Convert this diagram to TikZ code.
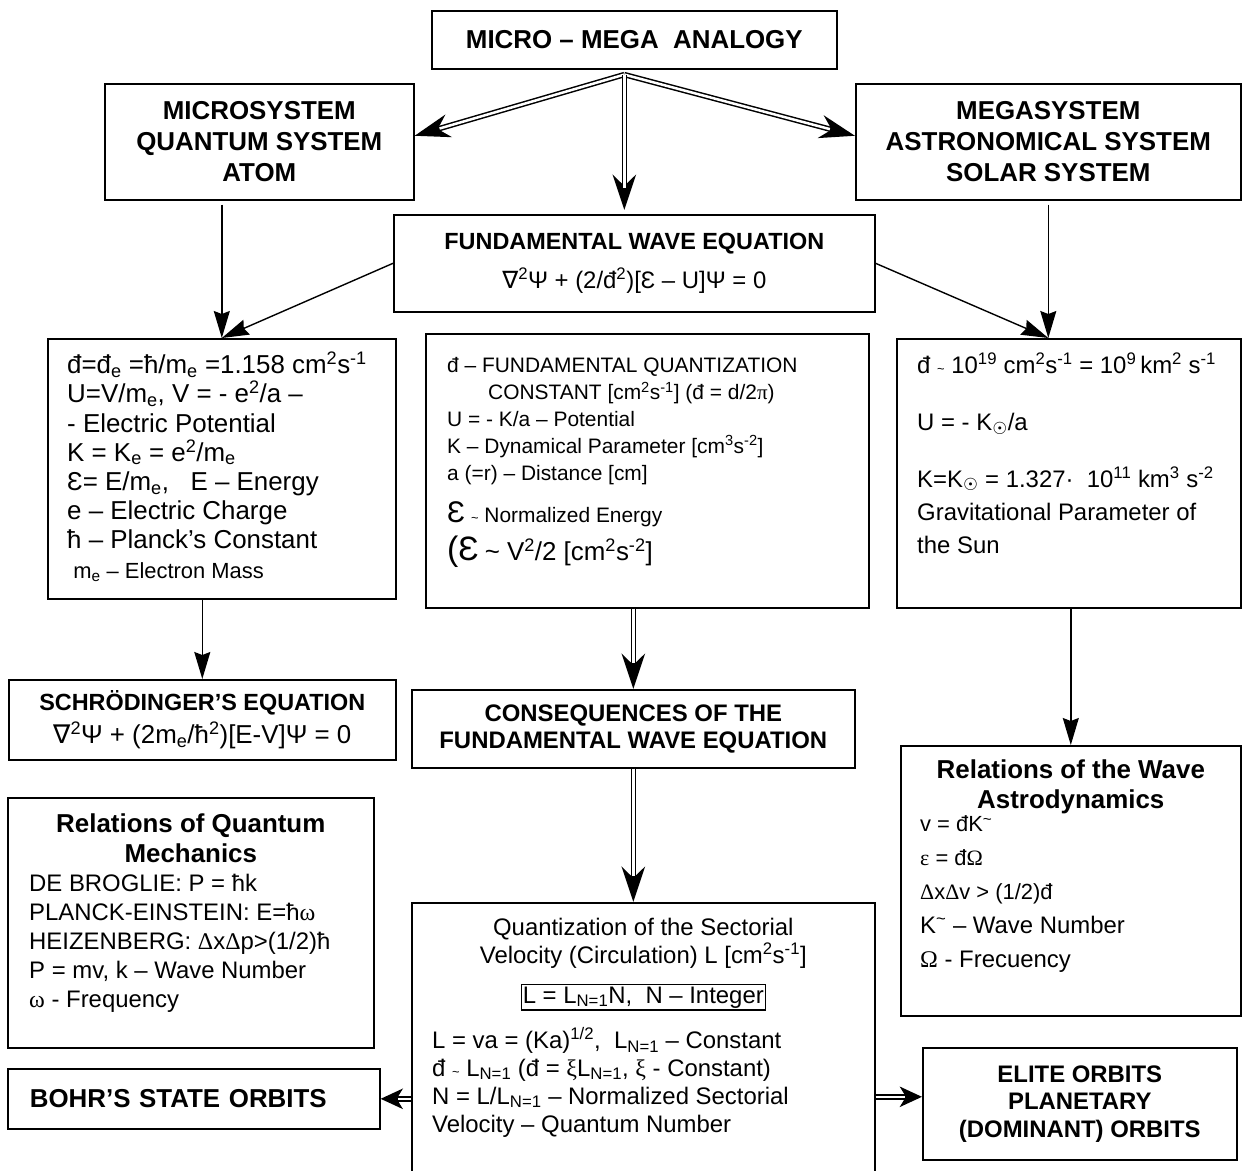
\documentclass[tikz,border=0pt]{standalone}
\usepackage{fontspec}
\setmainfont{Liberation Sans}
\newfontfamily\dvfont{DejaVu Sans}
\newfontfamily\grkfont{Liberation Serif}
\usetikzlibrary{arrows.meta}
\usetikzlibrary{positioning}
\newcommand{\fs}[2]{\fontsize{#1}{#2}\selectfont}
\newcommand{\gk}[1]{{\grkfont #1}}
\newcommand{\nab}{{\dvfont ∇}}
\newcommand{\sunsub}{\textsubscript{\dvfont ☉}}
\newcommand{\smtil}{{\fs{13}{13}\string~}}
\tikzset{
    box/.style={
        draw,
        line width=1.6bp,
        anchor=north west,
        inner sep=0pt
    },
    head/.style={
        font={\fs{26}{31}\bfseries},
        align=center
    },
    txt/.style={
        align=left,
        inner sep=0pt,
        anchor=base west
    },
    arr/.style={
        line width=1.4bp,
        -{Stealth[length=27bp,width=16bp,inset=3bp]}
    },
    dbl/.style={
        line width=5.5bp,
        -{Stealth[length=35bp,width=23bp,inset=11bp]},
        postaction={draw=white,line width=2.5bp,-,shorten >=26bp}
    },
    dbl short/.style={
        line width=5.5bp,
        -{Stealth[length=22bp,width=20bp,inset=6bp]},
        postaction={draw=white,line width=2.5bp,-,shorten >=17bp}
    }
}
\begin{document}
\begin{tikzpicture}[x=1bp,y=-1bp]
          \clip (0,0) rectangle (1242,1171);
          \node[box,head,minimum width=405bp,minimum height=58bp] (ana) at (431,10) {MICRO – MEGA\ \ ANALOGY};
          \node[box,head,minimum width=309bp,minimum height=116bp] (micro) at (104,83) {MICROSYSTEM\\QUANTUM SYSTEM\\ATOM};
          \node[box,head,minimum width=385bp,minimum height=116bp] (mega) at (855,83) {MEGASYSTEM\\ASTRONOMICAL SYSTEM\\SOLAR SYSTEM};
          \node[box,head,font={\fs{23.5}{40}\bfseries},minimum width=481bp,minimum height=97bp] (fwe) at (393,214)
            {FUNDAMENTAL WAVE EQUATION\\{\mdseries\fs{24}{40}\nab\textsuperscript{2}Ψ + (2/đ\textsuperscript{2})[Ɛ – U]Ψ = 0}};

          \node[box,minimum width=348bp,minimum height=260bp] (left) at (47,338) {};
          \node[txt,font=\fs{26}{29.3}] (left-t) at ([shift={(20,240)}]left.north west)
            {đ=đ\textsubscript{e} =ħ/m\textsubscript{e} =1.158 cm\textsuperscript{2}s\textsuperscript{-1}\\
             U=V/m\textsubscript{e}, V = - e\textsuperscript{2}/a –\\
             - Electric Potential\\
             K = K\textsubscript{e} = e\textsuperscript{2}/m\textsubscript{e}\\
             Ɛ= E/m\textsubscript{e},\ \ \ E – Energy\\
             e – Electric Charge\\
             ħ – Planck’s Constant\\
             {\fs{22}{29.3}\ m\textsubscript{e} – Electron Mass}};

          \node[box,minimum width=443bp,minimum height=274bp] (mid) at (425,333) {};
          \node[txt,font=\fs{21}{27}] (mid-t) at ([shift={(22,227)}]mid.north west)
            {đ – FUNDAMENTAL QUANTIZATION\\
             \hspace*{41bp}CONSTANT [cm\textsuperscript{2}s\textsuperscript{-1}] (đ = d/2\gk{π})\\
             U = - K/a – Potential\\
             K – Dynamical Parameter [cm\textsuperscript{3}s\textsuperscript{-2}]\\
             a (=r) – Distance [cm]\\[15bp]
             {\fs{30}{27}Ɛ} \smtil\ Normalized Energy\\[8bp]
             {\fs{34}{27}(Ɛ} {\fs{26}{27}\string~ V\textsuperscript{2}/2 [cm\textsuperscript{2}s\textsuperscript{-2}]}};

          \node[box,minimum width=344bp,minimum height=269bp] (right) at (896,338) {};
          \node[txt,font=\fs{24}{33}] (right-t) at ([shift={(21,215)}]right.north west)
            {đ \smtil\ 10\textsuperscript{19} cm\textsuperscript{2}s\textsuperscript{-1} = 10\textsuperscript{9}\,km\textsuperscript{2} s\textsuperscript{-1}\\[24bp]
             U = - K\sunsub/a\\[24bp]
             K=K\sunsub\ = 1.327·\ \ 10\textsuperscript{11} km\textsuperscript{3} s\textsuperscript{-2}\\
             Gravitational Parameter of\\
             the Sun};

          \node[box,head,font={\fs{23.5}{33}\bfseries},minimum width=387bp,minimum height=80bp] (schr) at (8,679)
            {SCHRÖDINGER’S EQUATION\\{\mdseries\fs{26}{33}\nab\textsuperscript{2}Ψ + (2m\textsubscript{e}/ħ\textsuperscript{2})[E-V]Ψ =\ 0}};
          \node[box,head,font={\fs{24}{27}\bfseries},minimum width=443bp,minimum height=78bp] (cons) at (411,689)
            {CONSEQUENCES OF THE\\FUNDAMENTAL WAVE EQUATION};

          \node[box,minimum width=366bp,minimum height=250bp] (relq) at (7,797) {};
          \node[head,anchor=base,inner sep=0pt,font={\fs{26}{30}\bfseries}] (relq-h) at ([yshift=-65bp]relq.north) {Relations of Quantum\\Mechanics};
          \node[txt,font=\fs{24}{29}] (relq-t) at ([shift={(22,210)}]relq.north west)
            {DE BROGLIE: P = ħk\\
             PLANCK-EINSTEIN: E=ħ\gk{ω}\\
             HEIZENBERG: \gk{Δ}x\gk{Δ}p>(1/2)ħ\\
             P = mv, k – Wave Number\\
             \gk{ω} - Frequency};

          \node[box,minimum width=340bp,minimum height=270bp] (relw) at (900,745) {};
          \node[head,anchor=base,inner sep=0pt,font={\fs{26}{30}\bfseries}] (relw-h) at ([yshift=-63bp]relw.north) {Relations of the Wave\\Astrodynamics};
          \node[txt,font=\fs{22}{34}] (relw-t) at ([shift={(20,222)}]relw.north west)
            {v = đK\textsuperscript{\string~}\\
             \gk{ε} = đ\gk{Ω}\\
             \gk{Δ}x\gk{Δ}v > (1/2)đ\\
             {\fs{24}{34}K\textsuperscript{\string~} – Wave Number}\\
             {\fs{24}{34}\gk{Ω} - Frecuency}};

          \node[box,font={\fs{26}{31}\bfseries},text width=328bp,inner xsep=22bp,minimum height=60bp,align=left] (bohr) at (7,1068) {BOHR’S STATE ORBITS};

          \node[box,minimum width=463bp,minimum height=290bp] (quant) at (411,902) {};
          \node[anchor=base,align=center,inner sep=0pt,font=\fs{24}{28}] (quant-h) at ([yshift=-61bp]quant.north)
            {Quantization of the Sectorial\\Velocity (Circulation) L [cm\textsuperscript{2}s\textsuperscript{-1}]};
          \node[draw,line width=1.2bp,anchor=base,inner xsep=1.5bp,inner ysep=2bp,font=\fs{24}{28}] (intg) at ([yshift=-101bp]quant.north)
            {L = L\textsubscript{N=1}N,\ \ N – Integer};
          \node[txt,font=\fs{24}{28}] (quant-t) at ([shift={(21,230)}]quant.north west)
            {L = va = (Ka)\textsuperscript{1/2},\ \ L\textsubscript{N=1} – Constant\\
             đ \smtil\ L\textsubscript{N=1} (đ = \gk{ξ}L\textsubscript{N=1}, \gk{ξ} - Constant)\\
             N = L/L\textsubscript{N=1} – Normalized Sectorial\\
             Velocity – Quantum Number};

          \node[box,head,font={\fs{24}{27.5}\bfseries},minimum width=314bp,minimum height=112bp] (elite) at (922,1047)
            {ELITE ORBITS\\PLANETARY\\(DOMINANT) ORBITS};

          \coordinate (split) at ([xshift=-10bp,yshift=-5bp]ana.south);
          \coordinate (rin) at (mega.south |- right.north);
          \foreach \t in {micro.east,mega.west}
            \draw[dbl] (split) -- ([yshift=6bp]\t);
          \draw[dbl,shorten >=4bp] (split) -- (split |- fwe.north);
          \draw[arr,shorten <=4bp] (left.north |- micro.south) -- (left.north);
          \draw[arr] (fwe.west) -- (left.north);
          \draw[arr,shorten <=4bp] (mega.south) -- (rin);
          \draw[arr] (fwe.east) -- (rin);
          \draw[arr] (schr.north |- left.south) -- (schr.north);
          \draw[arr] (relw.north |- right.south) -- (relw.north);
          \draw[dbl] (cons.north |- mid.south) -- (cons.north);
          \draw[dbl] (cons.south) -- (cons.south |- quant.north);
          \draw[dbl short] (bohr.east -| quant.west) -- (bohr.east);
          \draw[dbl short] ([yshift=7bp]elite.west -| quant.east) -- ([yshift=7bp]elite.west);
\end{tikzpicture}
\end{document}
